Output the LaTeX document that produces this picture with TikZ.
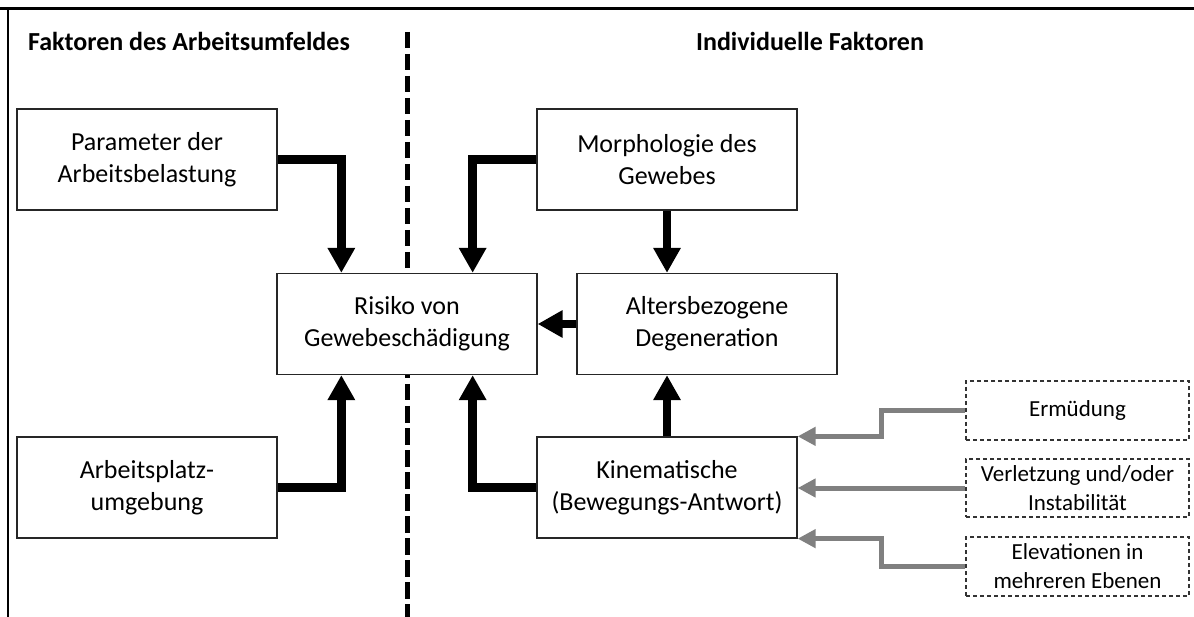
\documentclass[tikz,border=0pt]{standalone}
\usepackage{fontspec}
\setmainfont{Carlito}
\usetikzlibrary{arrows.meta,calc}
\definecolor{arrgray}{HTML}{808080}
\begin{document}
\begin{tikzpicture}[x=1pt,y=-1pt,
  box/.style={draw=black!85, fill=white, line width=1.3pt, minimum width=260pt, minimum height=101pt,
    inner sep=0pt, align=center, font=\fontsize{26}{32}\selectfont},
  dbox/.style={draw=black!80, fill=white, line width=1.2pt, dash pattern=on 4pt off 3pt,
    minimum width=223pt, minimum height=59pt, inner sep=0pt, align=center,
    font=\fontsize{23}{29}\selectfont},
  blk/.style={line width=8.5pt, -{Triangle[length=25pt,width=26pt]}},
  gry/.style={draw=arrgray, line width=5pt, -{Triangle[length=18pt,width=18pt]}},
  ttl/.style={inner sep=0pt, font=\fontsize{26}{32}\selectfont\bfseries}
]
\useasboundingbox (0,0) rectangle (1194,617);
% frame
\draw[line width=3pt] (0,9) -- (1194,9);
\draw[line width=2.4pt] (8,9) -- (8,617);
% divider
\draw[line width=5pt, dash pattern=on 16.5pt off 5.5pt] (407,32) -- (407,617);
% titles
\node[ttl] (t1) at (189,41) {Faktoren des Arbeitsumfeldes};
\node[ttl] (t2) at (810,41) {Individuelle Faktoren};
% boxes
\node[box] (param) at (147,159.5) {Parameter der\\Arbeitsbelastung};
\node[box] (morph) at (667,159.5) {Morphologie des\\Gewebes};
\node[box] (risk) at (407,324) {Risiko von\\Gewebeschädigung};
\node[box] (alters) at (707,324) {Altersbezogene\\Degeneration};
\node[box] (arb) at (147,487.5) {Arbeitsplatz-\\umgebung};
\node[box] (kin) at (667,487.5) {Kinematische\\(Bewegungs-Antwort)};
\node[dbox] (erm) at (1077.5,410.5) {Ermüdung};
\node[dbox, minimum height=58pt] (verl) at (1077.5,488) {Verletzung und/oder\\Instabilität};
\node[dbox] (elev) at (1077.5,566.5) {Elevationen in\\mehreren Ebenen};
% black connectors
\draw[blk] (param.east) -| ([xshift=65pt]risk.north west);
\draw[blk] (morph.west) -| ([xshift=-65pt]risk.north east);
\draw[blk] (arb.east) -| ([xshift=65pt]risk.south west);
\draw[blk] (kin.west) -| ([xshift=-65pt]risk.south east);
\draw[blk] (morph.south) -- (morph.south |- alters.north);
\draw[blk] (kin.north) -- (kin.north |- alters.south);
\draw[blk] (alters.west) -- (alters.west -| risk.east);
% gray connectors
\draw[gry] (erm.west) -- ++(-84,0) |- (kin.north east);
\draw[gry] (verl.west) -- (verl.west -| kin.east);
\draw[gry] (elev.west) -- ++(-84,0) |- (kin.south east);
\end{tikzpicture}
\end{document}
